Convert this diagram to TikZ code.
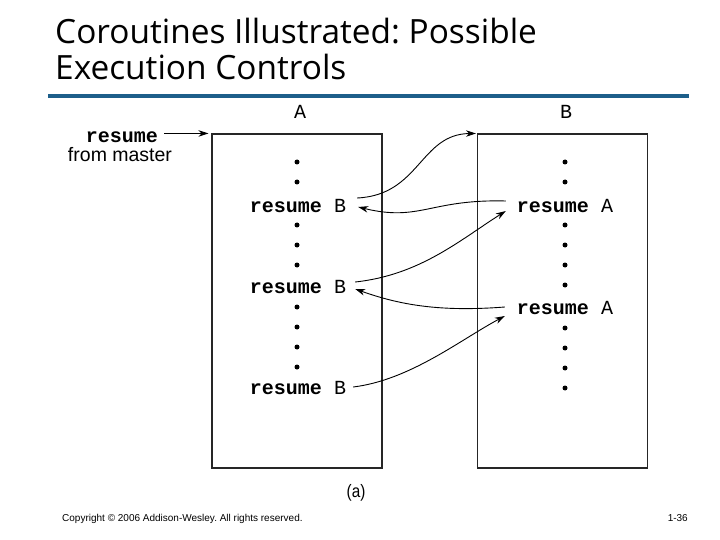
\documentclass[tikz,border=0pt]{standalone}
\usepackage{fontspec}
\setmainfont{Liberation Sans}
\newfontfamily\titlefont{Open Sans}
\newfontfamily\monofont{Liberation Mono}
\usetikzlibrary{arrows.meta}
\definecolor{barblue}{HTML}{1D5F8A}
\begin{document}
\frenchspacing
\begin{tikzpicture}[x=1pt,y=-1pt,
  titletext/.style={font=\titlefont\fontsize{33.4}{36}\selectfont, anchor=base west, inner sep=0pt},
  mono/.style={font=\monofont\fontsize{20}{20}\selectfont, anchor=base, inner sep=0pt},
  bmono/.style={font=\monofont\bfseries\fontsize{20}{20}\selectfont, anchor=base, inner sep=0pt},
  codeline/.style={font=\monofont\fontsize{20}{20}\selectfont, anchor=base, inner sep=0pt},
  dotmark/.style={circle, fill=black, inner sep=0pt, minimum size=5pt},
  flow/.style={-{Stealth[length=10pt,width=6.5pt]}, line width=0.9pt},
  box/.style={draw=black!85, line width=1.1pt, minimum width=170pt, minimum height=334pt, inner sep=0pt},
  small/.style={font=\fontsize{10}{10}\selectfont, anchor=base west, inner sep=0pt}
]
\useasboundingbox (0,0) rectangle (720,540);
% title
\node[titletext] (t1) at (55,44) {Coroutines Illustrated: Possible};
\node[titletext] (t2) at (55,80) {Execution Controls};
\draw[barblue, line width=4pt] (48,96) -- (689,96);
% boxes
\node[box] (boxA) at (297,301) {};
\node[box] (boxB) at (562.5,301) {};
\node[mono] (labA) at (300,119) {A};
\node[mono] (labB) at (566,119) {B};
% master
\node[bmono] (res) at (122,143) {resume};
\node[font=\fontsize{19.5}{20}\selectfont, anchor=base, inner sep=0pt] (master) at (120,162) {from master};
\draw[flow, shorten >=3pt] ([xshift=6pt]res.east |- boxA.north west) -- (boxA.north west);
% column A
\foreach \y/\n in {162/1,182/2,225/3,245/4,265/5,307/6,327/7,347/8,367/9}
  \node[dotmark] (ad\n) at (297,\y) {};
\node[codeline] (aB1) at (298,212) {\textbf{resume} B};
\node[codeline] (aB2) at (298,293) {\textbf{resume} B};
\node[codeline] (aB3) at (298,394) {\textbf{resume} B};
% column B
\foreach \y/\n in {162/1,182/2,225/3,245/4,265/5,285/6,328/7,348/8,368/9,388/10}
  \node[dotmark] (bd\n) at (565,\y) {};
\node[codeline] (bA1) at (565,212) {\textbf{resume} A};
\node[codeline] (bA2) at (565,314) {\textbf{resume} A};
% connectors
\coordinate (a1s) at ([xshift=11pt,yshift=14pt]aB1.base east);
\draw[flow, shorten >=1pt] (a1s) .. controls (420,195) and (420,134) .. (boxB.north west);
\coordinate (b1s) at ([xshift=-11pt,yshift=11pt]bA1.base west);
\coordinate (a1e) at ([xshift=12pt,yshift=5pt]aB1.base east);
\draw[flow] (b1s) .. controls (430,199) and (420,222) .. (a1e);
\coordinate (a2s) at ([xshift=9pt,yshift=11pt]aB2.base east);
\coordinate (b1e) at ([xshift=-11pt,yshift=1pt]bA1.base west);
\draw[flow] (a2s) .. controls (420,275) and (460,240) .. (b1e);
\coordinate (b2s) at ([xshift=-12pt,yshift=7pt]bA2.base west);
\coordinate (a2e) at ([xshift=9pt,yshift=4pt]aB2.base east);
\draw[flow] (b2s) .. controls (440,312) and (400,305) .. (a2e);
\coordinate (a3s) at ([xshift=7pt,yshift=7pt]aB3.base east);
\coordinate (b2e) at ([xshift=-12pt,yshift=-2pt]bA2.base west);
\draw[flow] (a3s) .. controls (410,380) and (460,340) .. (b2e);
% caption and footer
\node[font=\fontsize{18}{18}\selectfont, inner sep=0pt, xscale=0.85] (cap) at (356,493) {(a)};
\node[small] (copy) at (62,521) {Copyright © 2006 Addison-Wesley. All rights reserved.};
\node[small, anchor=base east] (pg) at (688,521) {1-36};
\end{tikzpicture}
\end{document}
